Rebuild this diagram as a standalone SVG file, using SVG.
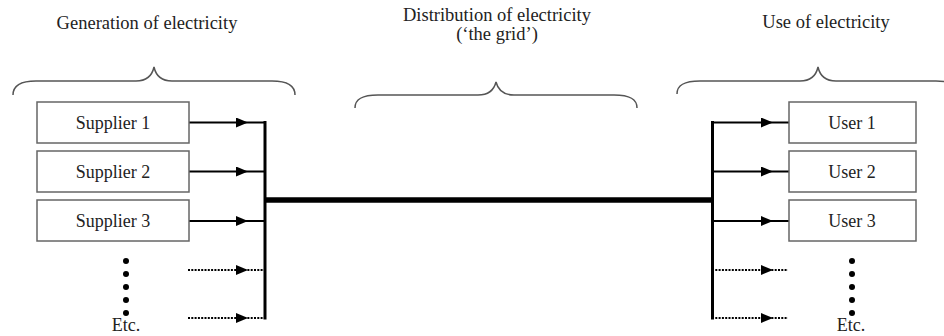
<svg xmlns="http://www.w3.org/2000/svg" width="944" height="336" viewBox="0 0 944 336">
  <style>
    text { font-family: "Liberation Serif", "Times New Roman", serif; font-size: 18px; fill: #222; text-anchor: middle; }
    .head { font-size: 18.5px; }
    .box { fill: #fff; stroke: #666; stroke-width: 1.5; }
    .brace { fill: none; stroke: #555; stroke-width: 1.5; }
    .feed { fill: none; stroke: #000; stroke-width: 2; }
    .dotted { fill: none; stroke: #000; stroke-width: 2; stroke-dasharray: 2 1.3; }
    .bus { fill: none; stroke: #000; stroke-width: 3; }
    .grid { fill: none; stroke: #000; stroke-width: 5.5; }
    .dot { fill: #000; }
  </style>
  <defs>
    <marker id="ah" markerUnits="userSpaceOnUse" viewBox="0 0 12 10" refX="12" refY="5" markerWidth="12" markerHeight="10" orient="auto">
      <path d="M0,0 L12,5 L0,10 z" fill="#000"/>
    </marker>
  </defs>

  <rect width="944" height="336" fill="#fff"/>

  <!-- section headings -->
  <g id="headings">
    <text class="head" x="147" y="29">Generation of electricity</text>
    <text class="head" x="497" y="21">Distribution of electricity</text>
    <text class="head" x="497" y="40">(‘the grid’)</text>
    <text class="head" x="826" y="28">Use of electricity</text>
  </g>

  <!-- curly braces grouping each section -->
  <g id="braces">
    <path class="brace" d="M13,95 C13,86 20,81 36,81 L136,81 C147,81 152,76 154,67 C156,76 161,81 172,81 L272,81 C288,81 295,86 295,95"/>
    <path class="brace" d="M355,108 C355,99 362,95 378,95 L478,95 C489,95 494,90 496,82 C498,90 503,95 514,95 L614,95 C630,95 637,99 637,108"/>
    <path class="brace" d="M677,94 C677,85 684,81 700,81 L800,81 C811,81 816,76 818,67 C820,76 825,81 836,81 L936,81 C952,81 959,85 959,94"/>
  </g>

  <!-- connectors -->
  <g id="connectors">
    <!-- supplier feeds into the left bus -->
    <path class="feed" d="M189,122.5 H248 H265" marker-mid="url(#ah)"/>
    <path class="feed" d="M189,171.5 H248 H265" marker-mid="url(#ah)"/>
    <path class="feed" d="M189,221 H248 H265" marker-mid="url(#ah)"/>
    <path class="dotted" d="M188,270 H248 H265" marker-mid="url(#ah)"/>
    <path class="dotted" d="M188,318 H248 H265" marker-mid="url(#ah)"/>
    <path class="bus" d="M265,121 V319.5"/>
    <!-- the grid -->
    <path class="grid" d="M265,200 H713"/>
    <!-- right bus out to users -->
    <path class="bus" d="M712.5,121 V319.5"/>
    <path class="feed" d="M712,122.5 H773 H789" marker-mid="url(#ah)"/>
    <path class="feed" d="M712,171.5 H773 H789" marker-mid="url(#ah)"/>
    <path class="feed" d="M712,221 H773 H789" marker-mid="url(#ah)"/>
    <path class="dotted" d="M712,270 H773 H788" marker-mid="url(#ah)"/>
    <path class="dotted" d="M712,318 H773 H788" marker-mid="url(#ah)"/>
  </g>

  <!-- suppliers -->
  <g id="supplier1">
    <rect class="box" x="37" y="102" width="152" height="41"/>
    <text x="113" y="128.5">Supplier 1</text>
  </g>
  <g id="supplier2">
    <rect class="box" x="37" y="151" width="152" height="41"/>
    <text x="113" y="177.5">Supplier 2</text>
  </g>
  <g id="supplier3">
    <rect class="box" x="37" y="200" width="152" height="41"/>
    <text x="113" y="226.5">Supplier 3</text>
  </g>
  <g id="supplier-etc">
    <circle class="dot" cx="126" cy="261" r="3"/>
    <circle class="dot" cx="126" cy="274" r="3"/>
    <circle class="dot" cx="126" cy="287" r="3"/>
    <circle class="dot" cx="126" cy="300" r="3"/>
    <circle class="dot" cx="126" cy="313" r="3"/>
    <text x="126" y="331">Etc.</text>
  </g>

  <!-- users -->
  <g id="user1">
    <rect class="box" x="789" y="102" width="127" height="41"/>
    <text x="852" y="128.5">User 1</text>
  </g>
  <g id="user2">
    <rect class="box" x="789" y="151" width="127" height="41"/>
    <text x="852" y="177.5">User 2</text>
  </g>
  <g id="user3">
    <rect class="box" x="789" y="200" width="127" height="41"/>
    <text x="852" y="226.5">User 3</text>
  </g>
  <g id="user-etc">
    <circle class="dot" cx="852" cy="261" r="3"/>
    <circle class="dot" cx="852" cy="274" r="3"/>
    <circle class="dot" cx="852" cy="287" r="3"/>
    <circle class="dot" cx="852" cy="300" r="3"/>
    <circle class="dot" cx="852" cy="313" r="3"/>
    <text x="851" y="331">Etc.</text>
  </g>
</svg>
